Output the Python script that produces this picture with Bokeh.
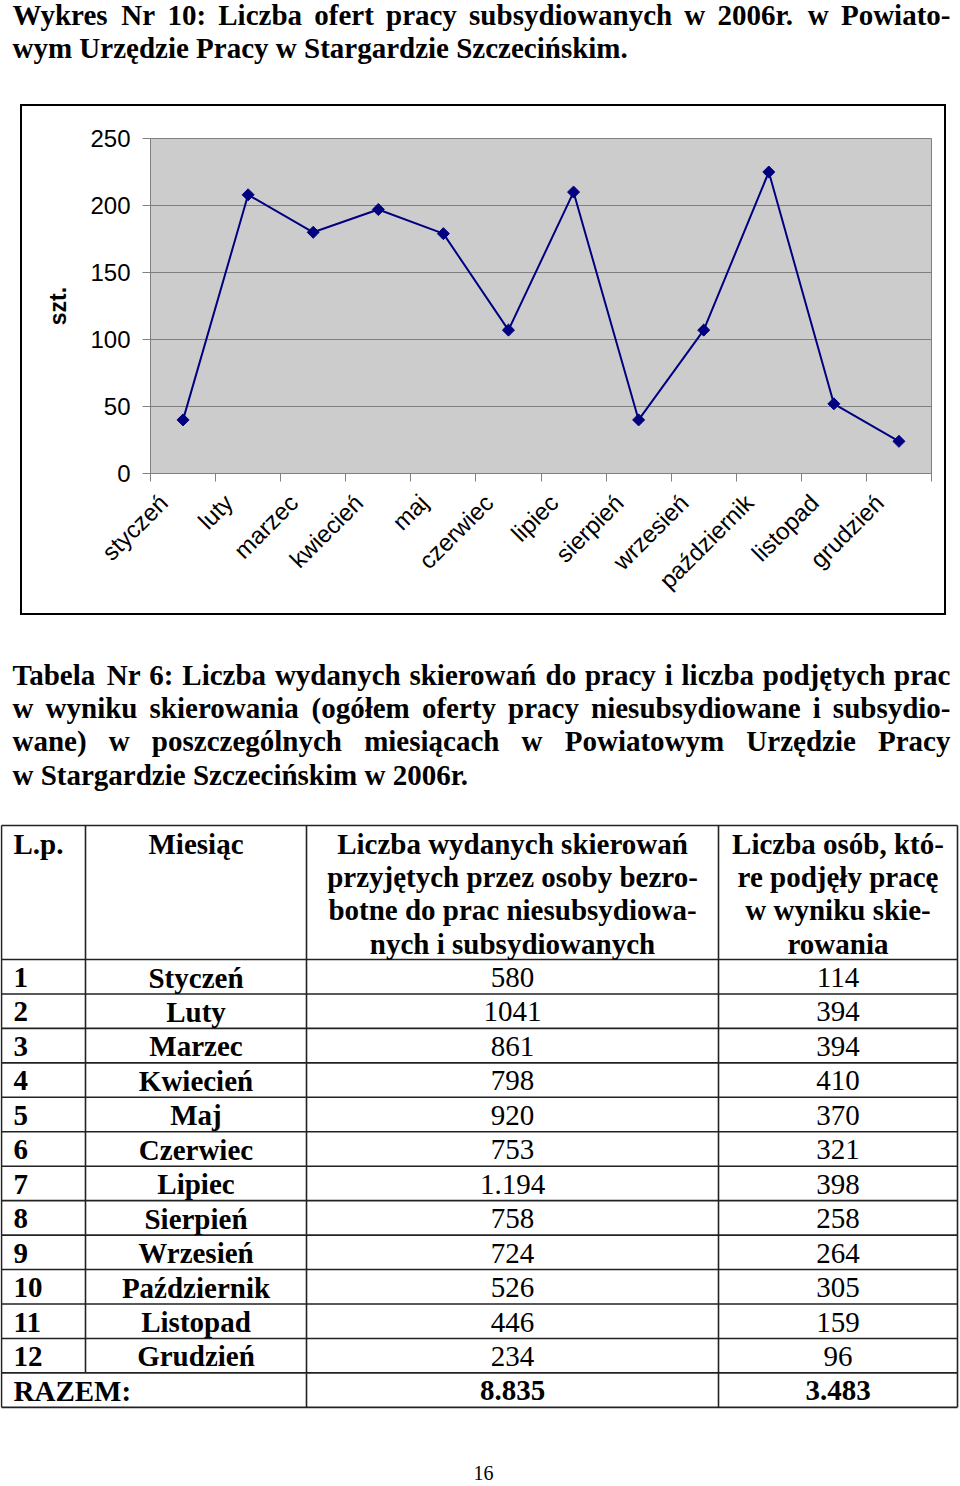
import numpy as np
from bokeh.plotting import figure
from bokeh.models import Range1d, FixedTicker, Spacer
from bokeh.layouts import column, row
from bokeh.embed import file_html
from bokeh.resources import INLINE
from bokeh.core.properties import value

# ---------------- data ----------------
chart_months = ["styczeń", "luty", "marzec", "kwiecień", "maj", "czerwiec",
                "lipiec", "sierpień", "wrzesień", "październik", "listopad", "grudzień"]
subsidised_offers = [40, 208, 180, 197, 179, 107, 210, 40, 107, 225, 52, 24]
y_ticks = [0, 50, 100, 150, 200, 250]
y_label = "szt."

title_lines = ["Wykres Nr 10: Liczba ofert pracy subsydiowanych  w 2006r. w Powiato-",
               "wym Urzędzie Pracy w Stargardzie Szczecińskim."]
caption_lines = ["Tabela Nr 6: Liczba wydanych skierowań do pracy i liczba podjętych prac",
                 "w wyniku skierowania (ogółem oferty pracy niesubsydiowane i subsydio-",
                 "wane) w poszczególnych miesiącach w Powiatowym Urzędzie Pracy",
                 "w Stargardzie Szczecińskim w 2006r."]
header_lp = "L.p."
header_month = "Miesiąc"
header_col3 = ["Liczba wydanych skierowań", "przyjętych przez osoby bezro-",
               "botne do prac niesubsydiowa-", "nych i subsydiowanych"]
header_col4 = ["Liczba osób, któ-", "re podjęły pracę", "w wyniku skie-", "rowania"]
row_numbers = ["1", "2", "3", "4", "5", "6", "7", "8", "9", "10", "11", "12"]
table_months = ["Styczeń", "Luty", "Marzec", "Kwiecień", "Maj", "Czerwiec", "Lipiec",
                "Sierpień", "Wrzesień", "Październik", "Listopad", "Grudzień"]
referrals = ["580", "1041", "861", "798", "920", "753", "1.194", "758", "724", "526", "446", "234"]
employed = ["114", "394", "394", "410", "370", "321", "398", "258", "264", "305", "159", "96"]
total_label = "RAZEM:"
total_referrals = "8.835"
total_employed = "3.483"
page_number = "16"

# ---------------- helpers ----------------
SERIF = value("Liberation Serif")

CW = {' ': 250, '.': 250, ',': 250, ':': 333, '-': 333, '(': 333, ')': 333,
      'A': 722, 'B': 667, 'C': 722, 'D': 722, 'E': 667, 'F': 611, 'G': 778, 'H': 778,
      'I': 389, 'J': 500, 'K': 778, 'L': 667, 'M': 944, 'N': 722, 'O': 778, 'P': 611,
      'R': 722, 'S': 556, 'T': 667, 'U': 722, 'W': 1000, 'Z': 667,
      'a': 500, 'b': 556, 'c': 444, 'd': 556, 'e': 444, 'f': 333, 'g': 500, 'h': 556,
      'i': 278, 'j': 333, 'k': 556, 'l': 278, 'm': 833, 'n': 556, 'o': 500, 'p': 556,
      'r': 444, 's': 389, 't': 333, 'u': 556, 'w': 722, 'y': 500, 'z': 444,
      'ą': 500, 'ć': 444, 'ę': 444, 'ł': 278, 'ń': 556, 'ó': 500, 'ś': 389, 'ź': 444, 'ż': 444}


def text_width(s, size):
    return sum(CW.get(c, 500) for c in s) * size / 1000.0


def put_line(p, text, x0, x1, y, size, justify):
    words = text.split()
    widths = [text_width(w, size) for w in words]
    if justify and len(words) > 1:
        gap = (x1 - x0 - sum(widths)) / (len(words) - 1)
    else:
        gap = 0.25 * size
    xs, x = [], x0
    for w in widths:
        xs.append(x)
        x += w + gap
    p.text(x=xs, y=[y] * len(words), text=words, text_font=SERIF, text_font_style="bold",
           text_font_size=f"{size}px", text_baseline="alphabetic", text_align="left",
           text_color="black")


def page_fig(height, top, bottom):
    p = figure(width=960, height=height, x_range=Range1d(0, 960), y_range=Range1d(bottom, top),
               output_backend="svg", toolbar_location=None, min_border=0,
               x_axis_type=None, y_axis_type=None)
    p.outline_line_color = None
    p.background_fill_color = "white"
    p.border_fill_color = "white"
    return p


FS = 29

# ---------------- title ----------------
top = page_fig(104, 0, 104)
for i, line in enumerate(title_lines):
    put_line(top, line, 12, 950, 14.5 + 33.4 * i, FS, justify=(i < len(title_lines) - 1))

# ---------------- chart ----------------
idx = list(range(len(chart_months)))
label_pos = [i - 0.3 for i in idx]
chart = figure(width=926, height=511,
               x_range=Range1d(-0.5, len(chart_months) - 0.5),
               y_range=Range1d(y_ticks[0], y_ticks[-1]),
               output_backend="svg", toolbar_location=None,
               min_border_left=128, min_border_right=17, min_border_top=32, min_border_bottom=144,
               background_fill_color="#CCCCCC", border_fill_color="white")
chart.outline_line_color = "#808080"
chart.outline_line_width = 1
chart.xgrid.visible = False
chart.ygrid.grid_line_color = "#808080"
chart.ygrid.grid_line_width = 1

chart.yaxis.ticker = FixedTicker(ticks=y_ticks)
chart.yaxis.axis_line_color = "#808080"
chart.yaxis.major_tick_line_color = "#808080"
chart.yaxis.major_tick_out = 8
chart.yaxis.major_tick_in = 0
chart.yaxis.minor_tick_line_color = None
chart.yaxis.major_label_text_font = "Liberation Sans"
chart.yaxis.major_label_text_font_size = "24px"
chart.yaxis.major_label_text_color = "black"
chart.yaxis.major_label_standoff = 12
chart.yaxis.axis_label = y_label
chart.yaxis.axis_label_text_font = "Liberation Sans"
chart.yaxis.axis_label_text_font_style = "bold"
chart.yaxis.axis_label_text_font_size = "23px"
chart.yaxis.axis_label_text_color = "black"
chart.yaxis.axis_label_standoff = 16

chart.xaxis.ticker = FixedTicker(ticks=label_pos,
                                 minor_ticks=[i - 0.5 for i in range(len(chart_months) + 1)])
chart.xaxis.major_label_overrides = {p: m for p, m in zip(label_pos, chart_months)}
chart.xaxis.axis_line_color = "#808080"
chart.xaxis.major_tick_out = 0
chart.xaxis.major_tick_in = 0
chart.xaxis.major_tick_line_color = None
chart.xaxis.minor_tick_out = 8
chart.xaxis.minor_tick_in = 0
chart.xaxis.minor_tick_line_color = "#808080"
chart.xaxis.major_label_orientation = np.pi / 4
chart.xaxis.major_label_text_font = "Liberation Sans"
chart.xaxis.major_label_text_font_size = "24px"
chart.xaxis.major_label_text_color = "black"
chart.xaxis.major_label_standoff = 17

chart.line(idx, subsidised_offers, line_color="#000080", line_width=2)
chart.scatter(idx, subsidised_offers, marker="square", angle=np.pi / 4, size=8.5,
              fill_color="#000080", line_color="#000080")
chart.styles = {"border": "2px solid black"}

# ---------------- table ----------------
bottom = page_fig(871, 615, 1486)
for i, line in enumerate(caption_lines):
    put_line(bottom, line, 12, 950, 674 + 33.4 * i, FS, justify=(i < len(caption_lines) - 1))

col_x = [1, 85, 306, 718, 957]
table_top = 825
header_bottom = 959
row_h = 34.45
n_rows = len(table_months) + 1
row_edges = [header_bottom + row_h * k for k in range(n_rows + 1)]
h_y = [table_top] + row_edges
bottom.segment(x0=[col_x[0]] * len(h_y), y0=h_y, x1=[col_x[-1]] * len(h_y), y1=h_y,
               line_color="#222222", line_width=1.6)
v_x0, v_y0, v_y1 = [], [], []
for j, cx in enumerate(col_x):
    v_x0.append(cx)
    v_y0.append(table_top)
    v_y1.append(row_edges[-2] if j == 1 else row_edges[-1])
bottom.segment(x0=v_x0, y0=v_y0, x1=v_x0, y1=v_y1, line_color="#222222", line_width=1.6)

hb = [843 + 33.4 * k for k in range(4)]
c2 = (col_x[1] + col_x[2]) / 2
c3 = (col_x[2] + col_x[3]) / 2
c4 = (col_x[3] + col_x[4]) / 2
bold = dict(text_font=SERIF, text_font_style="bold", text_font_size=f"{FS}px",
            text_baseline="alphabetic", text_color="black")
normal = dict(text_font=SERIF, text_font_style="normal", text_font_size=f"{FS}px",
              text_baseline="alphabetic", text_color="black")
bottom.text(x=[13], y=[hb[0]], text=[header_lp], text_align="left", **bold)
bottom.text(x=[c2], y=[hb[0]], text=[header_month], text_align="center", **bold)
bottom.text(x=[c3] * 4, y=hb, text=header_col3, text_align="center", **bold)
bottom.text(x=[c4] * 4, y=hb, text=header_col4, text_align="center", **bold)

rb = [row_edges[k] + 18 for k in range(len(table_months))]
bottom.text(x=[13] * len(rb), y=rb, text=row_numbers, text_align="left", **bold)
bottom.text(x=[c2] * len(rb), y=rb, text=table_months, text_align="center", **bold)
bottom.text(x=[c3] * len(rb), y=rb, text=referrals, text_align="center", **normal)
bottom.text(x=[c4] * len(rb), y=rb, text=employed, text_align="center", **normal)
tb = row_edges[-2] + 18
bottom.text(x=[13], y=[tb], text=[total_label], text_align="left", **bold)
bottom.text(x=[c3, c4], y=[tb, tb], text=[total_referrals, total_employed], text_align="center", **bold)

bottom.text(x=[483], y=[1472], text=[page_number], text_align="center", text_font=SERIF,
            text_font_size="20px", text_baseline="alphabetic", text_color="black")

layout = column(top, row(Spacer(width=20, height=511), chart), bottom)
open("out.html", "w").write(file_html(layout, INLINE))
